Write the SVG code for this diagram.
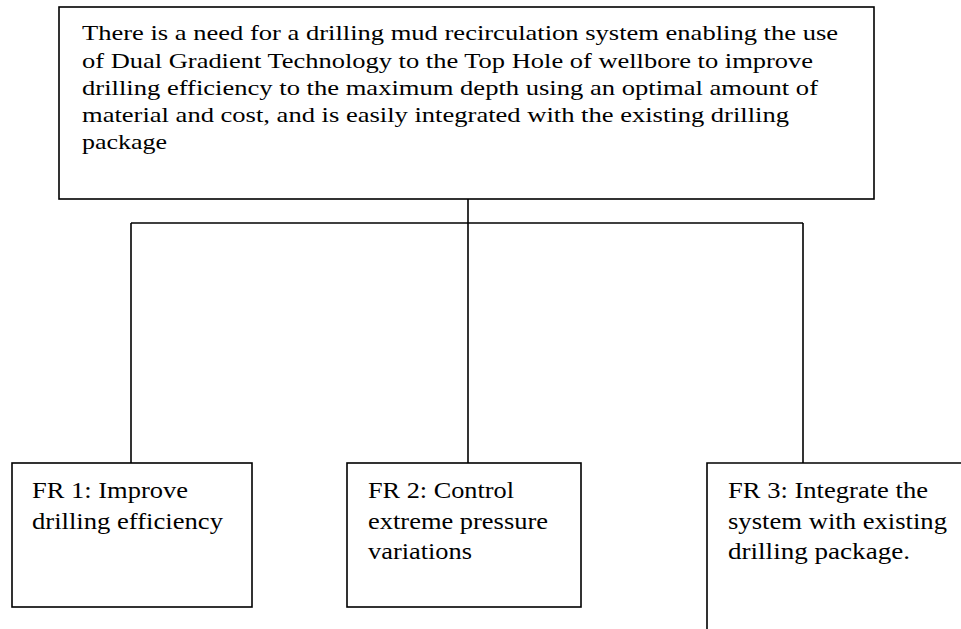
<svg xmlns="http://www.w3.org/2000/svg" width="961" height="629" viewBox="0 0 961 629">
  <style>
    .box { fill: #ffffff; stroke: #000000; stroke-width: 1.6; }
    .link { fill: none; stroke: #000000; stroke-width: 1.6; }
    text { font-family: "Liberation Serif", "Times New Roman", Times, serif; fill: #000000; }
    .need text { font-size: 22px; }
    .fr text { font-size: 23.5px; }
  </style>
  <rect width="961" height="629" fill="#ffffff"/>

  <!-- connectors -->
  <g id="connectors">
    <line class="link" x1="468" y1="199" x2="468" y2="463"/>
    <line class="link" x1="131" y1="223" x2="803" y2="223"/>
    <line class="link" x1="131" y1="223" x2="131" y2="463"/>
    <line class="link" x1="803" y1="223" x2="803" y2="463"/>
  </g>

  <!-- top-level need statement -->
  <g id="need" class="need">
    <rect class="box" x="59" y="7" width="815" height="192"/>
    <text x="82" y="40" textLength="756" lengthAdjust="spacingAndGlyphs">There is a need for a drilling mud recirculation system enabling the use</text>
    <text x="82" y="67.5" textLength="731" lengthAdjust="spacingAndGlyphs">of Dual Gradient Technology to the Top Hole of wellbore to improve</text>
    <text x="82" y="95" textLength="736" lengthAdjust="spacingAndGlyphs">drilling efficiency to the maximum depth using an optimal amount of</text>
    <text x="82" y="122" textLength="707" lengthAdjust="spacingAndGlyphs">material and cost, and is easily integrated with the existing drilling</text>
    <text x="82" y="149" textLength="85" lengthAdjust="spacingAndGlyphs">package</text>
  </g>

  <!-- functional requirements -->
  <g id="fr1" class="fr">
    <rect class="box" x="12" y="463" width="240" height="144"/>
    <text x="32" y="498" textLength="156" lengthAdjust="spacingAndGlyphs">FR 1: Improve</text>
    <text x="32" y="528.5" textLength="191" lengthAdjust="spacingAndGlyphs">drilling efficiency</text>
  </g>

  <g id="fr2" class="fr">
    <rect class="box" x="347" y="463" width="234" height="144"/>
    <text x="368" y="498" textLength="146" lengthAdjust="spacingAndGlyphs">FR 2: Control</text>
    <text x="368" y="528.5" textLength="180" lengthAdjust="spacingAndGlyphs">extreme pressure</text>
    <text x="368" y="559" textLength="104" lengthAdjust="spacingAndGlyphs">variations</text>
  </g>

  <g id="fr3" class="fr">
    <path class="link" d="M 961 463 L 707 463 L 707 629"/>
    <text x="728" y="498" textLength="200" lengthAdjust="spacingAndGlyphs">FR 3: Integrate the</text>
    <text x="728" y="528.5" textLength="219" lengthAdjust="spacingAndGlyphs">system with existing</text>
    <text x="728" y="559" textLength="182" lengthAdjust="spacingAndGlyphs">drilling package.</text>
  </g>
</svg>
